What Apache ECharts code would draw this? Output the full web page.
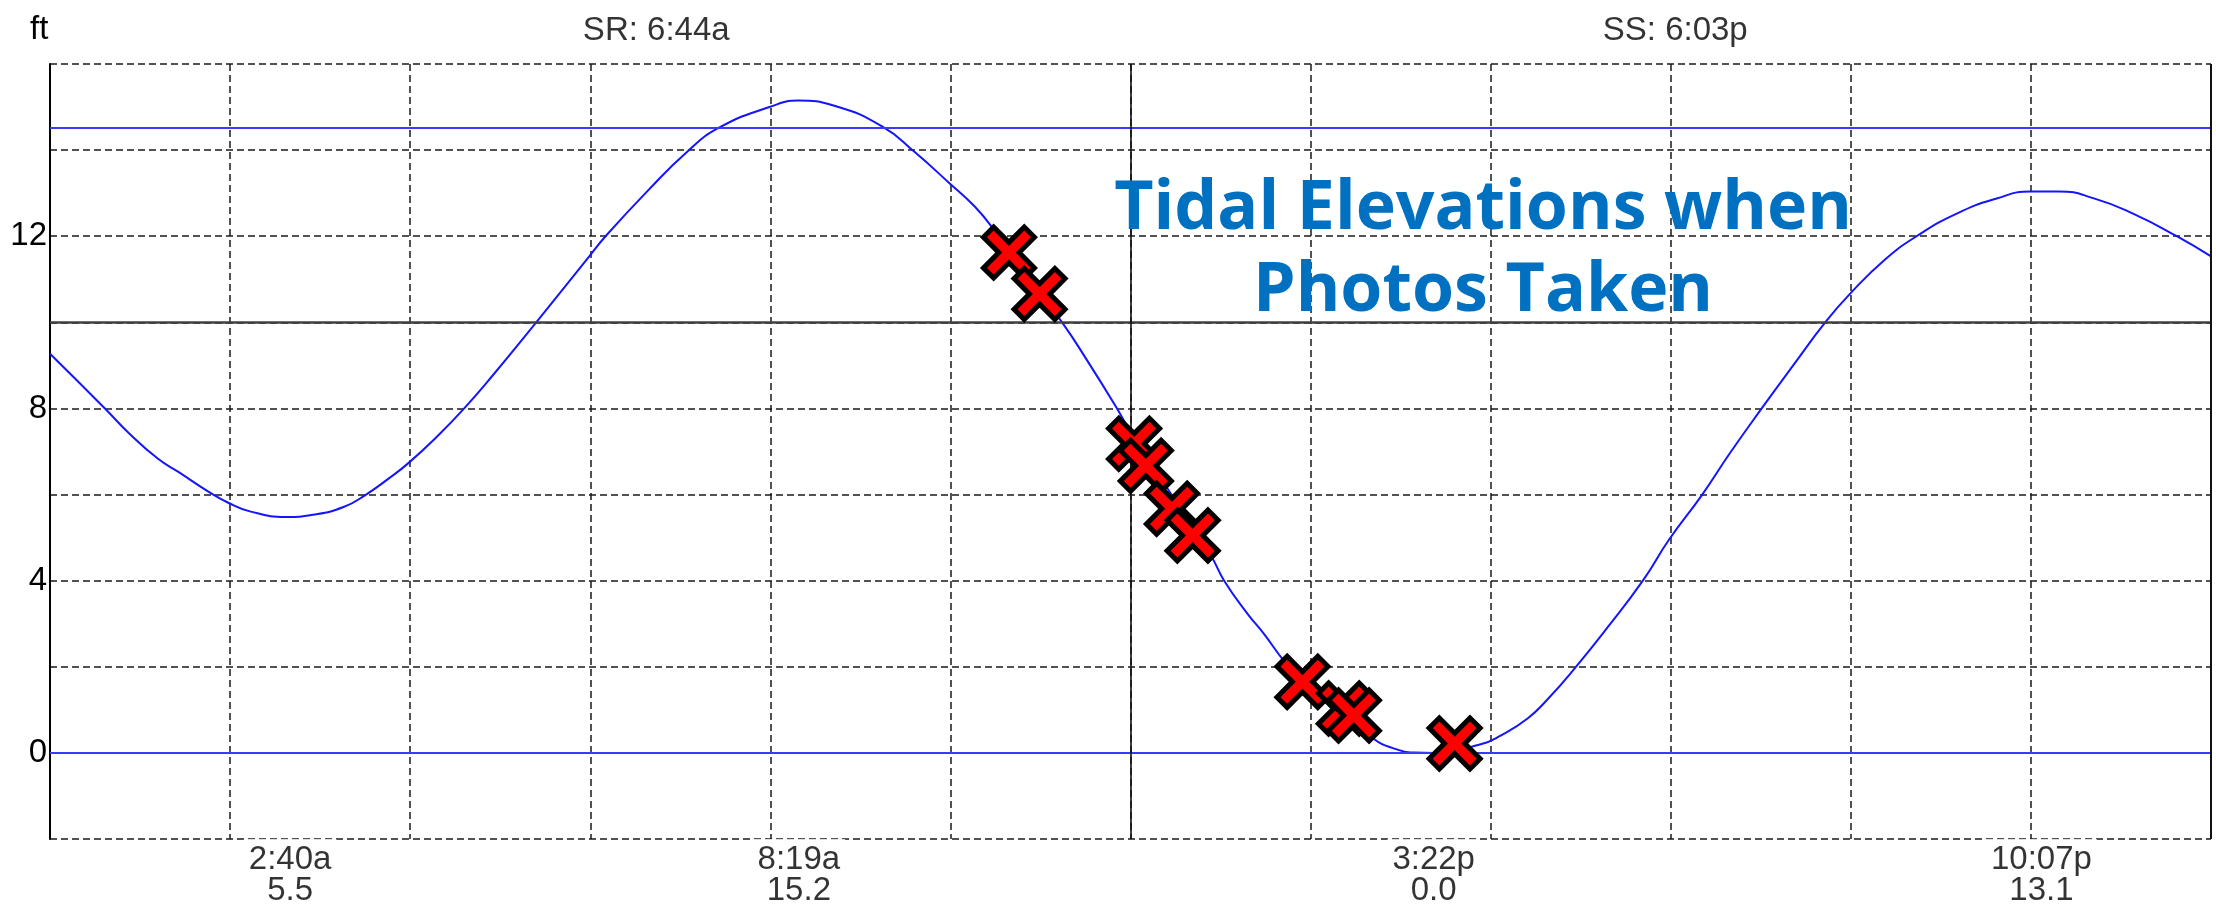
<!DOCTYPE html>
<html>
<head>
<meta charset="utf-8">
<script src="https://cdn.jsdelivr.net/npm/echarts@6/dist/echarts.min.js"></script>
<style>
html,body{margin:0;padding:0;background:#fff;}
#chart{width:2216px;height:909px;}
</style>
</head>
<body>
<div id="chart"></div>
<script>
// ---- data ----
const curveHours = [0,0.61,0.88,1.2,1.43,1.75,1.98,2.22,2.62,2.92,3.26,3.51,3.76,3.98,4.31,4.6,4.93,5.4,5.98,6.17,6.64,7.08,7.43,7.99,8.31,8.71,9.25,9.6,9.98,10.27,10.49,11.24,11.52,11.85,11.99,12.89,13.04,13.3,13.48,13.7,13.91,14.7,14.93,15.15,15.37,15.89,16.11,16.41,16.63,16.94,17.3,17.69,17.98,18.35,18.66,19.01,19.37,19.72,19.99,20.38,20.73,21.17,21.61,22.0,22.31,22.7,23.14,23.62,24];
const curveHeights = [9.27,8.0,7.42,6.83,6.52,6.08,5.81,5.61,5.48,5.53,5.71,6.0,6.37,6.73,7.37,8.0,8.8,10.0,11.51,12.0,13.06,13.97,14.52,15.0,15.15,15.03,14.54,13.96,13.25,12.69,12.13,10.0,9.11,8.0,7.49,4.59,4.0,3.23,2.77,2.15,1.68,0.33,0.1,0.01,0.0,0.2,0.4,0.8,1.24,1.98,2.92,4.0,4.95,6.0,6.97,8.0,9.03,10.01,10.66,11.46,12.0,12.52,12.87,13.04,13.04,12.88,12.52,12.0,11.53];

const photoHours   = [10.65, 10.99, 12.04, 12.17, 12.46, 12.69, 13.91, 14.37, 14.48, 15.60];
const photoHeights = [11.62, 10.66, 7.18, 6.67, 5.67, 5.05, 1.65, 1.03, 0.87, 0.22];

const extremeHours   = [2.667, 8.317, 15.367, 22.117];
const extremeHeights = [5.5, 15.2, 0.0, 13.1];
const extremeLabels  = ['2:40a', '8:19a', '3:22p', '10:07p'];

const sunHours  = [6.733, 18.05];
const sunLabels = ['SR: 6:44a', 'SS: 6:03p'];

const yLabelValues = [0, 4, 8, 12];
const blueLevels = [14.52, 0];
const darkLevels = [10];
const noonHour = 12;
const dayEnd = 24;

const titleText = 'Tidal Elevations when\nPhotos Taken';

// ---- chart ----
const chart = echarts.init(document.getElementById('chart'), null, {renderer: 'canvas'});
const FONT = '"Liberation Sans", Arial, sans-serif';
const xPath = 'path://M20 0 L50 30 L80 0 L100 20 L70 50 L100 80 L80 100 L50 70 L20 100 L0 80 L30 50 L0 20 Z';

const markLineData = [];
blueLevels.forEach(v => markLineData.push({yAxis: v, lineStyle: {color: '#3a3aff', width: 2, type: 'solid'}}));
darkLevels.forEach(v => markLineData.push({yAxis: v, lineStyle: {color: '#404040', width: 2.5, type: 'solid'}}));
markLineData.push({xAxis: noonHour, lineStyle: {color: '#111', width: 1.6, type: 'solid'}});
markLineData.push({xAxis: dayEnd, lineStyle: {color: '#111', width: 2, type: 'solid'}});

const option = {
  animation: false,
  backgroundColor: '#fff',
  title: {
    text: titleText,
    left: 1478,
    top: 164,
    textAlign: 'center',
    textStyle: {
      fontFamily: '"Open Sans", sans-serif',
      fontWeight: 'bold',
      fontSize: 68,
      lineHeight: 82,
      color: '#0070C0'
    }
  },
  graphic: [{
    type: 'text', left: 30, top: 13,
    style: {text: 'ft', font: '33px ' + FONT, fill: '#000'}
  }],
  grid: {left: 50, right: 5, top: 64, bottom: 70},
  xAxis: {
    type: 'value', min: 0, max: 24, interval: 2,
    axisLine: {show: false}, axisTick: {show: false}, axisLabel: {show: false},
    splitLine: {show: true, lineStyle: {color: '#1a1a1a', width: 1.5, type: [7, 4]}}
  },
  yAxis: {
    type: 'value', min: -2, max: 16, interval: 2,
    axisLine: {show: true, onZero: false, lineStyle: {color: '#000', width: 2}},
    axisTick: {show: false},
    axisLabel: {
      margin: 3, color: '#000', fontSize: 33, fontFamily: FONT,
      formatter: v => (yLabelValues.indexOf(v) >= 0 ? String(v) : '')
    },
    splitLine: {show: true, lineStyle: {color: '#1a1a1a', width: 1.5, type: [7, 4]}}
  },
  series: [
    {
      name: 'tide', type: 'line', smooth: 0.5, symbol: 'none',
      data: curveHours.map((h, i) => [h, curveHeights[i]]),
      lineStyle: {color: '#1414ff', width: 2},
      markLine: {silent: true, symbol: 'none', label: {show: false}, data: markLineData},
      z: 3
    },
    {
      name: 'photos', type: 'scatter', symbol: xPath, symbolSize: 51,
      data: photoHours.map((h, i) => [h, photoHeights[i]]),
      itemStyle: {color: '#ff0000', borderColor: '#000', borderWidth: 5, opacity: 1},
      z: 5
    },
    {
      name: 'extremes', type: 'scatter', symbolSize: 0, silent: true,
      data: extremeHours.map((h, i) => ({value: [h, -2], name: extremeLabels[i]})),
      label: {
        show: true, position: 'bottom', distance: 0,
        formatter: p => extremeLabels[p.dataIndex] + '\n' + extremeHeights[p.dataIndex].toFixed(1),
        fontSize: 33, lineHeight: 31, fontFamily: FONT, color: '#000',
        backgroundColor: '#fff', padding: [5, 5, 2, 5], align: 'center'
      },
      z: 6
    },
    {
      name: 'sun', type: 'scatter', symbolSize: 0, silent: true,
      data: sunHours.map(h => [h, 16]),
      label: {
        show: true, position: 'top', distance: 17,
        formatter: p => sunLabels[p.dataIndex],
        fontSize: 33, lineHeight: 33, fontFamily: FONT, color: '#000'
      },
      z: 6
    }
  ]
};
chart.setOption(option);
</script>
</body>
</html>
